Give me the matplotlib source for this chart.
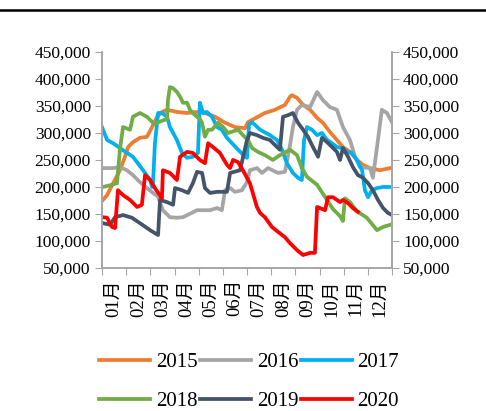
import matplotlib
matplotlib.use("Agg")
import matplotlib.pyplot as plt
from matplotlib.lines import Line2D
from matplotlib.ticker import FuncFormatter, FixedLocator

plt.rcParams['font.family'] = ['Liberation Serif', 'Noto Sans CJK SC', 'DejaVu Sans']

months = ["01月", "02月", "03月", "04月", "05月", "06月",
          "07月", "08月", "09月", "10月", "11月", "12月"]

# position in months (0 = start of Jan) and stock in tonnes (thousands)
m15 = [0.04, 0.21, 0.46, 0.74, 0.95, 1.08, 1.28, 1.57, 1.86, 2.07, 2.28, 2.48, 2.69, 3.10,
       3.52, 3.93, 4.26, 4.68, 5.09, 5.50, 5.92, 6.04, 6.45, 6.74, 7.16, 7.57, 7.78, 7.86,
       8.07, 8.32, 8.61, 8.90, 9.14, 9.43, 9.72, 9.97, 10.26, 10.55, 10.80, 11.09, 11.50, 11.92]
v15 = [176, 185, 207, 231, 256, 274, 283, 291, 293, 311, 330, 339, 343, 339,
       337, 339, 337, 330, 319, 311, 309, 320, 330, 337, 343, 352, 367, 370,
       365, 352, 343, 328, 319, 302, 287, 274, 265, 250, 241, 235, 231, 235]

m16 = [0.04, 0.46, 0.74, 1.03, 1.28, 1.57, 1.86, 2.11, 2.32, 2.52, 2.81, 3.10, 3.35, 3.93,
       4.47, 4.76, 4.96, 5.09, 5.30, 5.50, 5.79, 6.00, 6.12, 6.41, 6.62, 6.87, 7.28, 7.57,
       7.78, 7.90, 8.07, 8.27, 8.61, 8.90, 9.14, 9.43, 9.72, 9.97, 10.26, 10.47, 10.67,
       11.09, 11.21, 11.38, 11.58, 11.79, 12.0]
v16 = [235, 235, 237, 231, 222, 209, 198, 189, 182, 157, 144, 143, 144, 157,
       157, 161, 157, 194, 198, 191, 194, 209, 231, 235, 226, 235, 226, 228,
       278, 311, 343, 352, 348, 376, 361, 348, 343, 311, 287, 256, 237,
       235, 217, 274, 343, 337, 320]

m17 = [0.0, 0.21, 0.46, 0.87, 1.28, 1.70, 1.99, 2.07, 2.11, 2.19, 2.32, 2.48, 2.69, 2.81,
       3.10, 3.31, 3.52, 3.76, 3.97, 4.05, 4.18, 4.34, 4.55, 4.76, 4.96, 5.17, 5.38, 5.63,
       5.92, 6.00, 6.08, 6.21, 6.54, 6.95, 7.24, 7.45, 7.65, 7.90, 8.11, 8.27, 8.36, 8.48,
       8.69, 8.90, 9.10, 9.31, 9.52, 9.72, 9.93, 10.14, 10.34, 10.55, 10.76, 10.88, 11.01,
       11.17, 11.38, 11.63, 11.92]
v17 = [311, 287, 281, 268, 256, 231, 213, 200, 207, 281, 337, 337, 330, 311,
       287, 263, 254, 256, 263, 356, 337, 339, 330, 311, 306, 291, 281, 269,
       256, 254, 315, 320, 306, 296, 287, 269, 244, 226, 217, 213, 287, 311,
       306, 296, 300, 287, 281, 274, 272, 265, 263, 250, 231, 194, 181,
       194, 198, 200, 200]

m18 = [0.04, 0.41, 0.62, 0.74, 0.87, 1.16, 1.28, 1.57, 1.86, 2.11, 2.28, 2.69, 2.73, 2.81,
       2.94, 3.10, 3.23, 3.35, 3.52, 3.64, 3.76, 3.93, 4.05, 4.14, 4.26, 4.39, 4.55, 4.80,
       5.01, 5.21, 5.63, 5.83, 6.04, 6.21, 6.45, 6.74, 7.07, 7.36, 7.78, 8.07, 8.27, 8.48,
       8.90, 9.31, 9.56, 9.85, 9.97, 10.05, 10.26, 10.55, 10.96, 11.38, 11.63, 12.0]
v18 = [200, 204, 207, 269, 311, 306, 330, 337, 330, 319, 319, 326, 361, 385,
       383, 376, 367, 356, 356, 343, 337, 330, 326, 319, 293, 306, 306, 319,
       311, 300, 306, 296, 287, 272, 265, 259, 250, 259, 269, 259, 235, 219,
       204, 176, 159, 146, 137, 179, 172, 155, 143, 120, 126, 131]

m19 = [0.04, 0.33, 0.54, 0.87, 1.24, 1.57, 1.99, 2.32, 2.40, 2.69, 2.94, 3.02, 3.31, 3.56,
       3.76, 3.93, 4.14, 4.26, 4.47, 4.76, 5.17, 5.30, 5.71, 6.00, 6.12, 6.41, 6.66, 6.95,
       7.24, 7.36, 7.49, 7.70, 7.90, 8.11, 8.32, 8.52, 8.73, 8.94, 9.10, 9.31, 9.52, 9.72,
       9.85, 9.97, 10.18, 10.38, 10.59, 10.80, 11.01, 11.21, 11.42, 11.63, 11.83, 12.0]
v19 = [133, 130, 144, 148, 143, 133, 120, 111, 176, 172, 167, 198, 194, 189,
       207, 228, 226, 198, 189, 191, 191, 226, 231, 287, 300, 296, 291, 287,
       274, 269, 330, 333, 337, 319, 306, 293, 274, 256, 291, 283, 274, 265,
       250, 272, 256, 237, 222, 217, 207, 194, 176, 161, 152, 148]

m20 = [0.04, 0.21, 0.41, 0.54, 0.66, 0.87, 1.16, 1.45, 1.65, 1.78, 1.99, 2.19, 2.48, 2.52,
       2.81, 3.10, 3.23, 3.52, 3.76, 4.05, 4.26, 4.39, 4.59, 4.88, 5.17, 5.30, 5.42, 5.63,
       5.83, 6.12, 6.41, 6.54, 6.74, 7.03, 7.28, 7.57, 7.78, 8.07, 8.32, 8.61, 8.81, 8.90,
       9.02, 9.23, 9.35, 9.56, 9.85, 9.97, 10.18, 10.38, 10.59]
v20 = [144, 143, 126, 124, 194, 185, 176, 163, 167, 222, 213, 198, 179, 231,
       226, 213, 256, 265, 263, 250, 244, 281, 274, 263, 241, 235, 250, 246,
       231, 207, 163, 152, 144, 126, 117, 107, 96, 83, 74, 78, 78, 163,
       161, 157, 181, 181, 172, 176, 170, 161, 154]

series = [("2015", m15, v15, "#ED7D31"),
          ("2016", m16, v16, "#A5A5A5"),
          ("2017", m17, v17, "#00B0F0"),
          ("2018", m18, v18, "#70AD47"),
          ("2019", m19, v19, "#44546A"),
          ("2020", m20, v20, "#FF0000")]

fig = plt.figure(figsize=(4.86, 4.11), dpi=100)
ax = fig.add_axes([0.2099, 0.348, 0.5967, 0.5255])

for name, mx, vals, col in series:
    ax.plot(mx, [v * 1000 for v in vals], color=col, lw=2.7, label=name,
            solid_joinstyle='round')

ax.set_xlim(0, 12)
ax.set_ylim(50000, 450000)
ax.set_yticks(range(50000, 450001, 50000))
fmt = FuncFormatter(lambda v, p: f"{int(v):,}")
ax.yaxis.set_major_formatter(fmt)

ax.xaxis.set_major_locator(FixedLocator(range(13)))
ax.xaxis.set_minor_locator(FixedLocator([i + 0.5 for i in range(12)]))
ax.set_xticklabels([], minor=False)
ax.set_xticklabels(months, minor=True, rotation=90, fontsize=13.5)
ax.tick_params(axis='x', which='minor', length=0, pad=8)
ax.tick_params(axis='x', which='major', length=5, color='#a6a6a6', direction='out')
ax.tick_params(axis='y', length=5, color='#a6a6a6', labelsize=12.5, pad=3)

ax2 = ax.twinx()
ax2.set_ylim(ax.get_ylim())
ax2.set_yticks(range(50000, 450001, 50000))
ax2.yaxis.set_major_formatter(fmt)
ax2.tick_params(axis='y', length=5, color='#a6a6a6', labelsize=12.5, pad=3)

for a in (ax, ax2):
    a.spines['top'].set_visible(False)
    for s in ('left', 'right', 'bottom'):
        a.spines[s].set_color('#a6a6a6')
        a.spines[s].set_linewidth(1.2)

# legend filled row by row: 2015 2016 2017 / 2018 2019 2020
h, l = ax.get_legend_handles_labels()
order = [0, 3, 1, 4, 2, 5]
fig.legend([h[i] for i in order], [l[i] for i in order], loc='center', ncol=3,
           bbox_to_anchor=(0.513, 0.071), frameon=False, fontsize=15,
           handlelength=2.45, handletextpad=0.25, columnspacing=0.15,
           labelspacing=0.95)

fig.add_artist(Line2D([0, 1], [0.976, 0.976], color='black', lw=1.8))

fig.savefig("out.png", dpi=100)
